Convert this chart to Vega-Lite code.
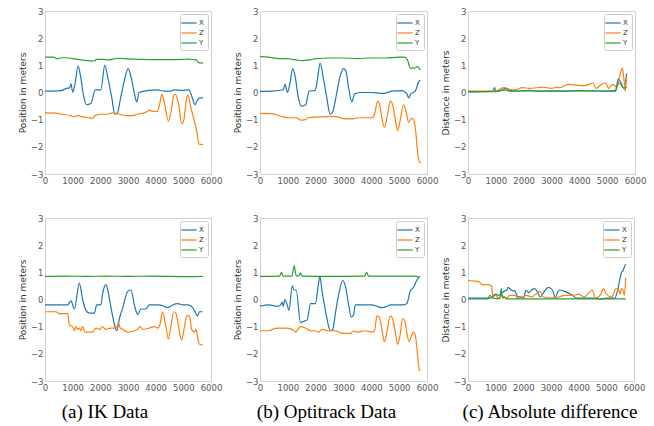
{
"$schema":"https://vega.github.io/schema/vega-lite/v6.json",
"padding":{"left":17,"top":6,"right":0,"bottom":0},
"background":"white",
"config":{
 "view":{"stroke":"#d0d0d0"},
 "axis":{"domain":false,"ticks":false,"grid":false,"labelFont":"DejaVu Sans","labelFontSize":8.5,"labelColor":"#555","labelPadding":2,"titleFont":"DejaVu Sans","titleFontSize":9,"titleFontWeight":"normal","titleColor":"#333","labelFlush":false,"labelOverlap":false,"titlePadding":3,"format":"d"},
 "legend":{"orient":"top-right","offset":3,"strokeColor":"#ccc","fillColor":"white","padding":4,"cornerRadius":2,"symbolType":"M-1.9,0L1.9,0","symbolSize":64,"symbolStrokeWidth":1.5,"labelFont":"DejaVu Sans","labelFontSize":7,"labelColor":"#333","rowPadding":2,"labelOffset":5},
 "line":{"strokeWidth":1.2,"interpolate":"monotone"}
},
"data":{"values":[
{"p":1,"s":"X","t":0,"v":0.05},{"p":1,"s":"X","t":580,"v":0.07},{"p":1,"s":"X","t":820,"v":0.16},{"p":1,"s":"X","t":880,"v":0.16},{"p":1,"s":"X","t":940,"v":0.32},{"p":1,"s":"X","t":1000,"v":0.01},{"p":1,"s":"X","t":1080,"v":0.3},{"p":1,"s":"X","t":1200,"v":0.97},{"p":1,"s":"X","t":1300,"v":0.5},{"p":1,"s":"X","t":1390,"v":-0.1},{"p":1,"s":"X","t":1500,"v":-0.45},{"p":1,"s":"X","t":1660,"v":-0.4},{"p":1,"s":"X","t":1815,"v":0.1},{"p":1,"s":"X","t":2020,"v":0.1},{"p":1,"s":"X","t":2160,"v":1.0},{"p":1,"s":"X","t":2280,"v":0.5},{"p":1,"s":"X","t":2415,"v":-0.2},{"p":1,"s":"X","t":2525,"v":-0.8},{"p":1,"s":"X","t":2620,"v":-0.75},{"p":1,"s":"X","t":2715,"v":-0.3},{"p":1,"s":"X","t":2860,"v":0.4},{"p":1,"s":"X","t":3005,"v":0.88},{"p":1,"s":"X","t":3125,"v":0.5},{"p":1,"s":"X","t":3245,"v":-0.1},{"p":1,"s":"X","t":3315,"v":-0.35},{"p":1,"s":"X","t":3400,"v":0.0},{"p":1,"s":"X","t":3700,"v":0.07},{"p":1,"s":"X","t":4060,"v":0.1},{"p":1,"s":"X","t":4300,"v":0.05},{"p":1,"s":"X","t":4540,"v":0.05},{"p":1,"s":"X","t":4660,"v":0.1},{"p":1,"s":"X","t":4960,"v":0.08},{"p":1,"s":"X","t":5200,"v":0.1},{"p":1,"s":"X","t":5325,"v":-0.2},{"p":1,"s":"X","t":5420,"v":-0.45},{"p":1,"s":"X","t":5500,"v":-0.3},{"p":1,"s":"X","t":5590,"v":-0.2},{"p":1,"s":"X","t":5710,"v":-0.2},
{"p":1,"s":"Z","t":0,"v":-0.75},{"p":1,"s":"Z","t":400,"v":-0.76},{"p":1,"s":"Z","t":580,"v":-0.8},{"p":1,"s":"Z","t":940,"v":-0.85},{"p":1,"s":"Z","t":1030,"v":-0.9},{"p":1,"s":"Z","t":1180,"v":-0.85},{"p":1,"s":"Z","t":1390,"v":-0.9},{"p":1,"s":"Z","t":1540,"v":-0.92},{"p":1,"s":"Z","t":1720,"v":-0.95},{"p":1,"s":"Z","t":1815,"v":-0.85},{"p":1,"s":"Z","t":2020,"v":-0.8},{"p":1,"s":"Z","t":2260,"v":-0.8},{"p":1,"s":"Z","t":2440,"v":-0.75},{"p":1,"s":"Z","t":2680,"v":-0.8},{"p":1,"s":"Z","t":2920,"v":-0.85},{"p":1,"s":"Z","t":3160,"v":-0.85},{"p":1,"s":"Z","t":3340,"v":-0.8},{"p":1,"s":"Z","t":3580,"v":-0.75},{"p":1,"s":"Z","t":3700,"v":-0.7},{"p":1,"s":"Z","t":3760,"v":-0.65},{"p":1,"s":"Z","t":3940,"v":-0.7},{"p":1,"s":"Z","t":4060,"v":-0.7},{"p":1,"s":"Z","t":4150,"v":-0.4},{"p":1,"s":"Z","t":4220,"v":-0.07},{"p":1,"s":"Z","t":4300,"v":-0.3},{"p":1,"s":"Z","t":4460,"v":-1.05},{"p":1,"s":"Z","t":4540,"v":-0.8},{"p":1,"s":"Z","t":4660,"v":-0.1},{"p":1,"s":"Z","t":4720,"v":-0.07},{"p":1,"s":"Z","t":4840,"v":-0.5},{"p":1,"s":"Z","t":4940,"v":-1.15},{"p":1,"s":"Z","t":5020,"v":-1.0},{"p":1,"s":"Z","t":5110,"v":-0.25},{"p":1,"s":"Z","t":5170,"v":-0.1},{"p":1,"s":"Z","t":5260,"v":-0.5},{"p":1,"s":"Z","t":5360,"v":-0.9},{"p":1,"s":"Z","t":5480,"v":-1.4},{"p":1,"s":"Z","t":5570,"v":-1.9},{"p":1,"s":"Z","t":5710,"v":-1.92},
{"p":1,"s":"Y","t":0,"v":1.3},{"p":1,"s":"Y","t":300,"v":1.3},{"p":1,"s":"Y","t":450,"v":1.24},{"p":1,"s":"Y","t":600,"v":1.28},{"p":1,"s":"Y","t":750,"v":1.28},{"p":1,"s":"Y","t":1000,"v":1.25},{"p":1,"s":"Y","t":1300,"v":1.2},{"p":1,"s":"Y","t":1500,"v":1.17},{"p":1,"s":"Y","t":1800,"v":1.16},{"p":1,"s":"Y","t":1850,"v":1.22},{"p":1,"s":"Y","t":2100,"v":1.22},{"p":1,"s":"Y","t":2300,"v":1.2},{"p":1,"s":"Y","t":2600,"v":1.26},{"p":1,"s":"Y","t":3000,"v":1.24},{"p":1,"s":"Y","t":3500,"v":1.22},{"p":1,"s":"Y","t":4000,"v":1.21},{"p":1,"s":"Y","t":4500,"v":1.21},{"p":1,"s":"Y","t":5000,"v":1.22},{"p":1,"s":"Y","t":5200,"v":1.23},{"p":1,"s":"Y","t":5400,"v":1.2},{"p":1,"s":"Y","t":5450,"v":1.22},{"p":1,"s":"Y","t":5550,"v":1.1},{"p":1,"s":"Y","t":5710,"v":1.08},
{"p":2,"s":"X","t":0,"v":0.04},{"p":2,"s":"X","t":420,"v":0.05},{"p":2,"s":"X","t":840,"v":0.1},{"p":2,"s":"X","t":900,"v":0.3},{"p":2,"s":"X","t":985,"v":0.0},{"p":2,"s":"X","t":1080,"v":0.35},{"p":2,"s":"X","t":1175,"v":0.88},{"p":2,"s":"X","t":1260,"v":0.6},{"p":2,"s":"X","t":1380,"v":-0.2},{"p":2,"s":"X","t":1475,"v":-0.5},{"p":2,"s":"X","t":1645,"v":-0.45},{"p":2,"s":"X","t":1765,"v":0.05},{"p":2,"s":"X","t":1980,"v":0.08},{"p":2,"s":"X","t":2065,"v":0.5},{"p":2,"s":"X","t":2160,"v":1.08},{"p":2,"s":"X","t":2280,"v":0.5},{"p":2,"s":"X","t":2400,"v":-0.2},{"p":2,"s":"X","t":2520,"v":-0.8},{"p":2,"s":"X","t":2615,"v":-0.7},{"p":2,"s":"X","t":2760,"v":0.0},{"p":2,"s":"X","t":2880,"v":0.6},{"p":2,"s":"X","t":3000,"v":0.88},{"p":2,"s":"X","t":3085,"v":0.8},{"p":2,"s":"X","t":3180,"v":0.2},{"p":2,"s":"X","t":3300,"v":-0.35},{"p":2,"s":"X","t":3400,"v":-0.05},{"p":2,"s":"X","t":3660,"v":0.0},{"p":2,"s":"X","t":4020,"v":0.0},{"p":2,"s":"X","t":4320,"v":-0.03},{"p":2,"s":"X","t":4500,"v":-0.02},{"p":2,"s":"X","t":4740,"v":0.05},{"p":2,"s":"X","t":5100,"v":0.07},{"p":2,"s":"X","t":5200,"v":0.02},{"p":2,"s":"X","t":5280,"v":-0.05},{"p":2,"s":"X","t":5340,"v":-0.2},{"p":2,"s":"X","t":5420,"v":-0.05},{"p":2,"s":"X","t":5580,"v":0.05},{"p":2,"s":"X","t":5700,"v":0.4},{"p":2,"s":"X","t":5760,"v":0.45},
{"p":2,"s":"Z","t":0,"v":-0.77},{"p":2,"s":"Z","t":420,"v":-0.78},{"p":2,"s":"Z","t":780,"v":-0.88},{"p":2,"s":"Z","t":1020,"v":-0.93},{"p":2,"s":"Z","t":1320,"v":-0.93},{"p":2,"s":"Z","t":1465,"v":-1.02},{"p":2,"s":"Z","t":1620,"v":-1.0},{"p":2,"s":"Z","t":1765,"v":-0.92},{"p":2,"s":"Z","t":2100,"v":-0.9},{"p":2,"s":"Z","t":2580,"v":-0.88},{"p":2,"s":"Z","t":2820,"v":-0.9},{"p":2,"s":"Z","t":2940,"v":-0.95},{"p":2,"s":"Z","t":3300,"v":-0.97},{"p":2,"s":"Z","t":3540,"v":-0.93},{"p":2,"s":"Z","t":4020,"v":-0.93},{"p":2,"s":"Z","t":4115,"v":-0.8},{"p":2,"s":"Z","t":4225,"v":-0.33},{"p":2,"s":"Z","t":4300,"v":-0.45},{"p":2,"s":"Z","t":4380,"v":-0.95},{"p":2,"s":"Z","t":4475,"v":-1.28},{"p":2,"s":"Z","t":4585,"v":-0.8},{"p":2,"s":"Z","t":4680,"v":-0.32},{"p":2,"s":"Z","t":4765,"v":-0.45},{"p":2,"s":"Z","t":4860,"v":-1.0},{"p":2,"s":"Z","t":4945,"v":-1.4},{"p":2,"s":"Z","t":5040,"v":-1.0},{"p":2,"s":"Z","t":5160,"v":-0.45},{"p":2,"s":"Z","t":5245,"v":-0.7},{"p":2,"s":"Z","t":5340,"v":-1.1},{"p":2,"s":"Z","t":5440,"v":-0.95},{"p":2,"s":"Z","t":5520,"v":-1.0},{"p":2,"s":"Z","t":5580,"v":-1.3},{"p":2,"s":"Z","t":5675,"v":-2.3},{"p":2,"s":"Z","t":5725,"v":-2.55},{"p":2,"s":"Z","t":5785,"v":-2.6},
{"p":2,"s":"Y","t":0,"v":1.32},{"p":2,"s":"Y","t":300,"v":1.3},{"p":2,"s":"Y","t":700,"v":1.25},{"p":2,"s":"Y","t":1000,"v":1.25},{"p":2,"s":"Y","t":1150,"v":1.22},{"p":2,"s":"Y","t":1300,"v":1.2},{"p":2,"s":"Y","t":1500,"v":1.17},{"p":2,"s":"Y","t":1800,"v":1.2},{"p":2,"s":"Y","t":2000,"v":1.25},{"p":2,"s":"Y","t":2500,"v":1.27},{"p":2,"s":"Y","t":3000,"v":1.27},{"p":2,"s":"Y","t":3500,"v":1.25},{"p":2,"s":"Y","t":4000,"v":1.27},{"p":2,"s":"Y","t":4500,"v":1.27},{"p":2,"s":"Y","t":5000,"v":1.3},{"p":2,"s":"Y","t":5200,"v":1.3},{"p":2,"s":"Y","t":5300,"v":1.2},{"p":2,"s":"Y","t":5400,"v":0.9},{"p":2,"s":"Y","t":5550,"v":0.9},{"p":2,"s":"Y","t":5650,"v":0.95},{"p":2,"s":"Y","t":5760,"v":0.82},
{"p":3,"s":"X","t":0,"v":0.02},{"p":3,"s":"X","t":500,"v":0.03},{"p":3,"s":"X","t":900,"v":0.05},{"p":3,"s":"X","t":950,"v":0.18},{"p":3,"s":"X","t":1000,"v":0.05},{"p":3,"s":"X","t":1200,"v":0.08},{"p":3,"s":"X","t":1350,"v":0.15},{"p":3,"s":"X","t":1500,"v":0.08},{"p":3,"s":"X","t":1800,"v":0.05},{"p":3,"s":"X","t":2200,"v":0.08},{"p":3,"s":"X","t":2500,"v":0.05},{"p":3,"s":"X","t":3000,"v":0.06},{"p":3,"s":"X","t":3500,"v":0.05},{"p":3,"s":"X","t":4000,"v":0.07},{"p":3,"s":"X","t":4500,"v":0.06},{"p":3,"s":"X","t":5000,"v":0.05},{"p":3,"s":"X","t":5300,"v":0.08},{"p":3,"s":"X","t":5400,"v":0.5},{"p":3,"s":"X","t":5500,"v":0.35},{"p":3,"s":"X","t":5600,"v":0.15},{"p":3,"s":"X","t":5700,"v":0.7},
{"p":3,"s":"Z","t":0,"v":0.05},{"p":3,"s":"Z","t":500,"v":0.05},{"p":3,"s":"Z","t":1000,"v":0.05},{"p":3,"s":"Z","t":1100,"v":0.1},{"p":3,"s":"Z","t":1300,"v":0.18},{"p":3,"s":"Z","t":1500,"v":0.12},{"p":3,"s":"Z","t":1700,"v":0.1},{"p":3,"s":"Z","t":1950,"v":0.18},{"p":3,"s":"Z","t":2200,"v":0.15},{"p":3,"s":"Z","t":2700,"v":0.2},{"p":3,"s":"Z","t":3000,"v":0.15},{"p":3,"s":"Z","t":3200,"v":0.2},{"p":3,"s":"Z","t":3300,"v":0.18},{"p":3,"s":"Z","t":3600,"v":0.3},{"p":3,"s":"Z","t":3800,"v":0.28},{"p":3,"s":"Z","t":4200,"v":0.25},{"p":3,"s":"Z","t":4500,"v":0.35},{"p":3,"s":"Z","t":4600,"v":0.15},{"p":3,"s":"Z","t":4800,"v":0.3},{"p":3,"s":"Z","t":4950,"v":0.35},{"p":3,"s":"Z","t":5050,"v":0.15},{"p":3,"s":"Z","t":5200,"v":0.3},{"p":3,"s":"Z","t":5350,"v":0.2},{"p":3,"s":"Z","t":5450,"v":0.6},{"p":3,"s":"Z","t":5550,"v":0.9},{"p":3,"s":"Z","t":5600,"v":0.5},{"p":3,"s":"Z","t":5650,"v":0.05},{"p":3,"s":"Z","t":5700,"v":0.6},
{"p":3,"s":"Y","t":0,"v":0.03},{"p":3,"s":"Y","t":500,"v":0.03},{"p":3,"s":"Y","t":1000,"v":0.03},{"p":3,"s":"Y","t":1300,"v":0.1},{"p":3,"s":"Y","t":1500,"v":0.05},{"p":3,"s":"Y","t":2000,"v":0.06},{"p":3,"s":"Y","t":2500,"v":0.05},{"p":3,"s":"Y","t":3000,"v":0.05},{"p":3,"s":"Y","t":3500,"v":0.05},{"p":3,"s":"Y","t":4000,"v":0.06},{"p":3,"s":"Y","t":4500,"v":0.06},{"p":3,"s":"Y","t":5000,"v":0.05},{"p":3,"s":"Y","t":5300,"v":0.05},{"p":3,"s":"Y","t":5400,"v":0.35},{"p":3,"s":"Y","t":5500,"v":0.3},{"p":3,"s":"Y","t":5600,"v":0.15},{"p":3,"s":"Y","t":5700,"v":0.2},
{"p":4,"s":"X","t":0,"v":-0.2},{"p":4,"s":"X","t":700,"v":-0.2},{"p":4,"s":"X","t":820,"v":-0.2},{"p":4,"s":"X","t":940,"v":-0.05},{"p":4,"s":"X","t":1060,"v":-0.35},{"p":4,"s":"X","t":1240,"v":0.6},{"p":4,"s":"X","t":1360,"v":0.0},{"p":4,"s":"X","t":1480,"v":-0.4},{"p":4,"s":"X","t":1600,"v":-0.5},{"p":4,"s":"X","t":1780,"v":-0.5},{"p":4,"s":"X","t":1870,"v":-0.2},{"p":4,"s":"X","t":2020,"v":-0.2},{"p":4,"s":"X","t":2080,"v":0.2},{"p":4,"s":"X","t":2200,"v":0.55},{"p":4,"s":"X","t":2300,"v":0.2},{"p":4,"s":"X","t":2385,"v":-0.3},{"p":4,"s":"X","t":2505,"v":-0.9},{"p":4,"s":"X","t":2590,"v":-1.15},{"p":4,"s":"X","t":2690,"v":-0.7},{"p":4,"s":"X","t":2810,"v":-0.3},{"p":4,"s":"X","t":2990,"v":0.3},{"p":4,"s":"X","t":3110,"v":0.35},{"p":4,"s":"X","t":3230,"v":-0.2},{"p":4,"s":"X","t":3350,"v":-0.55},{"p":4,"s":"X","t":3470,"v":-0.35},{"p":4,"s":"X","t":3650,"v":-0.35},{"p":4,"s":"X","t":3770,"v":-0.2},{"p":4,"s":"X","t":4070,"v":-0.2},{"p":4,"s":"X","t":4310,"v":-0.25},{"p":4,"s":"X","t":4430,"v":-0.3},{"p":4,"s":"X","t":4610,"v":-0.2},{"p":4,"s":"X","t":4800,"v":-0.15},{"p":4,"s":"X","t":4980,"v":-0.2},{"p":4,"s":"X","t":5160,"v":-0.2},{"p":4,"s":"X","t":5340,"v":-0.3},{"p":4,"s":"X","t":5520,"v":-0.6},{"p":4,"s":"X","t":5580,"v":-0.45},{"p":4,"s":"X","t":5700,"v":-0.45},
{"p":4,"s":"Z","t":0,"v":-0.45},{"p":4,"s":"Z","t":400,"v":-0.45},{"p":4,"s":"Z","t":520,"v":-0.52},{"p":4,"s":"Z","t":760,"v":-0.52},{"p":4,"s":"Z","t":820,"v":-0.52},{"p":4,"s":"Z","t":880,"v":-0.95},{"p":4,"s":"Z","t":1000,"v":-1.0},{"p":4,"s":"Z","t":1060,"v":-1.15},{"p":4,"s":"Z","t":1120,"v":-1.0},{"p":4,"s":"Z","t":1180,"v":-1.1},{"p":4,"s":"Z","t":1240,"v":-1.05},{"p":4,"s":"Z","t":1300,"v":-1.15},{"p":4,"s":"Z","t":1360,"v":-1.0},{"p":4,"s":"Z","t":1445,"v":-1.2},{"p":4,"s":"Z","t":1600,"v":-1.2},{"p":4,"s":"Z","t":1720,"v":-1.2},{"p":4,"s":"Z","t":1845,"v":-1.05},{"p":4,"s":"Z","t":1965,"v":-1.1},{"p":4,"s":"Z","t":2080,"v":-1.0},{"p":4,"s":"Z","t":2200,"v":-1.1},{"p":4,"s":"Z","t":2385,"v":-1.05},{"p":4,"s":"Z","t":2505,"v":-1.05},{"p":4,"s":"Z","t":2600,"v":-1.0},{"p":4,"s":"Z","t":2650,"v":-0.85},{"p":4,"s":"Z","t":2720,"v":-1.05},{"p":4,"s":"Z","t":2810,"v":-1.1},{"p":4,"s":"Z","t":2990,"v":-1.2},{"p":4,"s":"Z","t":3230,"v":-1.15},{"p":4,"s":"Z","t":3350,"v":-1.1},{"p":4,"s":"Z","t":3445,"v":-1.0},{"p":4,"s":"Z","t":3530,"v":-1.1},{"p":4,"s":"Z","t":3770,"v":-1.05},{"p":4,"s":"Z","t":3950,"v":-1.0},{"p":4,"s":"Z","t":4070,"v":-1.05},{"p":4,"s":"Z","t":4160,"v":-0.9},{"p":4,"s":"Z","t":4250,"v":-0.45},{"p":4,"s":"Z","t":4370,"v":-1.0},{"p":4,"s":"Z","t":4460,"v":-1.45},{"p":4,"s":"Z","t":4550,"v":-1.0},{"p":4,"s":"Z","t":4650,"v":-0.45},{"p":4,"s":"Z","t":4730,"v":-0.5},{"p":4,"s":"Z","t":4860,"v":-1.2},{"p":4,"s":"Z","t":4940,"v":-1.5},{"p":4,"s":"Z","t":5040,"v":-1.0},{"p":4,"s":"Z","t":5120,"v":-0.6},{"p":4,"s":"Z","t":5220,"v":-0.6},{"p":4,"s":"Z","t":5300,"v":-1.1},{"p":4,"s":"Z","t":5400,"v":-1.2},{"p":4,"s":"Z","t":5460,"v":-1.1},{"p":4,"s":"Z","t":5520,"v":-1.4},{"p":4,"s":"Z","t":5580,"v":-1.65},{"p":4,"s":"Z","t":5700,"v":-1.68},
{"p":4,"s":"Y","t":0,"v":0.85},{"p":4,"s":"Y","t":800,"v":0.86},{"p":4,"s":"Y","t":1500,"v":0.85},{"p":4,"s":"Y","t":2200,"v":0.86},{"p":4,"s":"Y","t":3000,"v":0.85},{"p":4,"s":"Y","t":3800,"v":0.86},{"p":4,"s":"Y","t":4600,"v":0.85},{"p":4,"s":"Y","t":5200,"v":0.84},{"p":4,"s":"Y","t":5700,"v":0.85},
{"p":5,"s":"X","t":0,"v":-0.25},{"p":5,"s":"X","t":320,"v":-0.2},{"p":5,"s":"X","t":620,"v":-0.25},{"p":5,"s":"X","t":740,"v":-0.2},{"p":5,"s":"X","t":800,"v":-0.1},{"p":5,"s":"X","t":835,"v":-0.25},{"p":5,"s":"X","t":895,"v":0.0},{"p":5,"s":"X","t":980,"v":-0.2},{"p":5,"s":"X","t":1040,"v":-0.4},{"p":5,"s":"X","t":1160,"v":0.5},{"p":5,"s":"X","t":1220,"v":0.35},{"p":5,"s":"X","t":1300,"v":0.35},{"p":5,"s":"X","t":1455,"v":-0.85},{"p":5,"s":"X","t":1575,"v":-0.8},{"p":5,"s":"X","t":1695,"v":-0.75},{"p":5,"s":"X","t":1815,"v":-0.15},{"p":5,"s":"X","t":1990,"v":-0.15},{"p":5,"s":"X","t":2090,"v":0.5},{"p":5,"s":"X","t":2150,"v":0.85},{"p":5,"s":"X","t":2230,"v":0.3},{"p":5,"s":"X","t":2350,"v":-0.4},{"p":5,"s":"X","t":2470,"v":-1.0},{"p":5,"s":"X","t":2530,"v":-1.15},{"p":5,"s":"X","t":2615,"v":-1.1},{"p":5,"s":"X","t":2710,"v":-0.5},{"p":5,"s":"X","t":2830,"v":0.2},{"p":5,"s":"X","t":2970,"v":0.7},{"p":5,"s":"X","t":3065,"v":0.5},{"p":5,"s":"X","t":3185,"v":-0.2},{"p":5,"s":"X","t":3280,"v":-0.65},{"p":5,"s":"X","t":3365,"v":-0.55},{"p":5,"s":"X","t":3425,"v":-0.2},{"p":5,"s":"X","t":3665,"v":-0.2},{"p":5,"s":"X","t":4020,"v":-0.2},{"p":5,"s":"X","t":4200,"v":-0.25},{"p":5,"s":"X","t":4380,"v":-0.3},{"p":5,"s":"X","t":4560,"v":-0.25},{"p":5,"s":"X","t":4680,"v":-0.2},{"p":5,"s":"X","t":4860,"v":-0.2},{"p":5,"s":"X","t":5155,"v":-0.2},{"p":5,"s":"X","t":5275,"v":-0.15},{"p":5,"s":"X","t":5395,"v":0.3},{"p":5,"s":"X","t":5515,"v":0.45},{"p":5,"s":"X","t":5630,"v":0.7},{"p":5,"s":"X","t":5690,"v":0.8},{"p":5,"s":"X","t":5730,"v":0.85},
{"p":5,"s":"Z","t":0,"v":-1.15},{"p":5,"s":"Z","t":320,"v":-1.15},{"p":5,"s":"Z","t":440,"v":-1.1},{"p":5,"s":"Z","t":680,"v":-1.05},{"p":5,"s":"Z","t":920,"v":-1.05},{"p":5,"s":"Z","t":1160,"v":-1.1},{"p":5,"s":"Z","t":1275,"v":-1.2},{"p":5,"s":"Z","t":1455,"v":-1.0},{"p":5,"s":"Z","t":1635,"v":-1.05},{"p":5,"s":"Z","t":1815,"v":-1.15},{"p":5,"s":"Z","t":1990,"v":-1.15},{"p":5,"s":"Z","t":2110,"v":-1.2},{"p":5,"s":"Z","t":2230,"v":-1.1},{"p":5,"s":"Z","t":2470,"v":-1.15},{"p":5,"s":"Z","t":2710,"v":-1.15},{"p":5,"s":"Z","t":2950,"v":-1.25},{"p":5,"s":"Z","t":3245,"v":-1.25},{"p":5,"s":"Z","t":3365,"v":-1.15},{"p":5,"s":"Z","t":3485,"v":-1.2},{"p":5,"s":"Z","t":3785,"v":-1.15},{"p":5,"s":"Z","t":4020,"v":-1.2},{"p":5,"s":"Z","t":4115,"v":-1.15},{"p":5,"s":"Z","t":4200,"v":-0.6},{"p":5,"s":"Z","t":4285,"v":-0.65},{"p":5,"s":"Z","t":4380,"v":-1.1},{"p":5,"s":"Z","t":4465,"v":-1.55},{"p":5,"s":"Z","t":4560,"v":-1.2},{"p":5,"s":"Z","t":4680,"v":-0.6},{"p":5,"s":"Z","t":4760,"v":-0.7},{"p":5,"s":"Z","t":4860,"v":-1.2},{"p":5,"s":"Z","t":4940,"v":-1.65},{"p":5,"s":"Z","t":5035,"v":-1.3},{"p":5,"s":"Z","t":5130,"v":-0.7},{"p":5,"s":"Z","t":5215,"v":-0.85},{"p":5,"s":"Z","t":5275,"v":-1.2},{"p":5,"s":"Z","t":5355,"v":-1.55},{"p":5,"s":"Z","t":5455,"v":-1.3},{"p":5,"s":"Z","t":5525,"v":-1.2},{"p":5,"s":"Z","t":5595,"v":-1.4},{"p":5,"s":"Z","t":5655,"v":-2.0},{"p":5,"s":"Z","t":5730,"v":-2.6},{"p":5,"s":"Z","t":5765,"v":-2.62},
{"p":5,"s":"Y","t":0,"v":0.85},{"p":5,"s":"Y","t":700,"v":0.86},{"p":5,"s":"Y","t":775,"v":1.0},{"p":5,"s":"Y","t":830,"v":0.86},{"p":5,"s":"Y","t":1150,"v":0.86},{"p":5,"s":"Y","t":1230,"v":1.25},{"p":5,"s":"Y","t":1300,"v":0.87},{"p":5,"s":"Y","t":1400,"v":0.88},{"p":5,"s":"Y","t":1450,"v":0.98},{"p":5,"s":"Y","t":1520,"v":0.86},{"p":5,"s":"Y","t":2500,"v":0.85},{"p":5,"s":"Y","t":3750,"v":0.86},{"p":5,"s":"Y","t":3830,"v":1.0},{"p":5,"s":"Y","t":3900,"v":0.86},{"p":5,"s":"Y","t":5000,"v":0.86},{"p":5,"s":"Y","t":5600,"v":0.86},{"p":5,"s":"Y","t":5700,"v":0.82},{"p":5,"s":"Y","t":5750,"v":0.85},
{"p":6,"s":"X","t":0,"v":0.05},{"p":6,"s":"X","t":500,"v":0.05},{"p":6,"s":"X","t":800,"v":0.05},{"p":6,"s":"X","t":1000,"v":0.2},{"p":6,"s":"X","t":1100,"v":0.15},{"p":6,"s":"X","t":1200,"v":0.2},{"p":6,"s":"X","t":1300,"v":0.3},{"p":6,"s":"X","t":1400,"v":0.35},{"p":6,"s":"X","t":1450,"v":0.45},{"p":6,"s":"X","t":1550,"v":0.35},{"p":6,"s":"X","t":1700,"v":0.3},{"p":6,"s":"X","t":1800,"v":0.1},{"p":6,"s":"X","t":1900,"v":0.1},{"p":6,"s":"X","t":2000,"v":0.05},{"p":6,"s":"X","t":2100,"v":0.35},{"p":6,"s":"X","t":2200,"v":0.25},{"p":6,"s":"X","t":2300,"v":0.35},{"p":6,"s":"X","t":2400,"v":0.4},{"p":6,"s":"X","t":2500,"v":0.3},{"p":6,"s":"X","t":2600,"v":0.1},{"p":6,"s":"X","t":2800,"v":0.35},{"p":6,"s":"X","t":2900,"v":0.45},{"p":6,"s":"X","t":3050,"v":0.35},{"p":6,"s":"X","t":3150,"v":0.1},{"p":6,"s":"X","t":3300,"v":0.35},{"p":6,"s":"X","t":3500,"v":0.3},{"p":6,"s":"X","t":3700,"v":0.2},{"p":6,"s":"X","t":3800,"v":0.15},{"p":6,"s":"X","t":3900,"v":0.05},{"p":6,"s":"X","t":4200,"v":0.05},{"p":6,"s":"X","t":4500,"v":0.05},{"p":6,"s":"X","t":4800,"v":0.02},{"p":6,"s":"X","t":5000,"v":0.05},{"p":6,"s":"X","t":5300,"v":0.05},{"p":6,"s":"X","t":5400,"v":0.3},{"p":6,"s":"X","t":5500,"v":0.8},{"p":6,"s":"X","t":5550,"v":1.0},{"p":6,"s":"X","t":5600,"v":1.05},{"p":6,"s":"X","t":5650,"v":1.2},{"p":6,"s":"X","t":5700,"v":1.3},
{"p":6,"s":"Z","t":0,"v":0.7},{"p":6,"s":"Z","t":200,"v":0.68},{"p":6,"s":"Z","t":400,"v":0.65},{"p":6,"s":"Z","t":500,"v":0.55},{"p":6,"s":"Z","t":700,"v":0.55},{"p":6,"s":"Z","t":850,"v":0.5},{"p":6,"s":"Z","t":900,"v":0.1},{"p":6,"s":"Z","t":1000,"v":0.15},{"p":6,"s":"Z","t":1100,"v":0.05},{"p":6,"s":"Z","t":1200,"v":0.15},{"p":6,"s":"Z","t":1300,"v":0.1},{"p":6,"s":"Z","t":1400,"v":0.05},{"p":6,"s":"Z","t":1500,"v":0.15},{"p":6,"s":"Z","t":1700,"v":0.15},{"p":6,"s":"Z","t":1800,"v":0.05},{"p":6,"s":"Z","t":2000,"v":0.1},{"p":6,"s":"Z","t":2100,"v":0.15},{"p":6,"s":"Z","t":2300,"v":0.1},{"p":6,"s":"Z","t":2600,"v":0.3},{"p":6,"s":"Z","t":2700,"v":0.1},{"p":6,"s":"Z","t":3000,"v":0.05},{"p":6,"s":"Z","t":3300,"v":0.1},{"p":6,"s":"Z","t":3500,"v":0.15},{"p":6,"s":"Z","t":3800,"v":0.15},{"p":6,"s":"Z","t":4000,"v":0.2},{"p":6,"s":"Z","t":4200,"v":0.1},{"p":6,"s":"Z","t":4500,"v":0.35},{"p":6,"s":"Z","t":4600,"v":0.05},{"p":6,"s":"Z","t":4800,"v":0.2},{"p":6,"s":"Z","t":4900,"v":0.4},{"p":6,"s":"Z","t":5000,"v":0.2},{"p":6,"s":"Z","t":5200,"v":0.1},{"p":6,"s":"Z","t":5350,"v":0.4},{"p":6,"s":"Z","t":5450,"v":0.35},{"p":6,"s":"Z","t":5500,"v":0.2},{"p":6,"s":"Z","t":5550,"v":0.4},{"p":6,"s":"Z","t":5600,"v":0.35},{"p":6,"s":"Z","t":5650,"v":0.15},{"p":6,"s":"Z","t":5700,"v":0.8},
{"p":6,"s":"Y","t":0,"v":0.02},{"p":6,"s":"Y","t":700,"v":0.02},{"p":6,"s":"Y","t":800,"v":0.15},{"p":6,"s":"Y","t":900,"v":0.05},{"p":6,"s":"Y","t":1150,"v":0.03},{"p":6,"s":"Y","t":1200,"v":0.4},{"p":6,"s":"Y","t":1250,"v":0.05},{"p":6,"s":"Y","t":1300,"v":0.1},{"p":6,"s":"Y","t":1400,"v":0.02},{"p":6,"s":"Y","t":3000,"v":0.02},{"p":6,"s":"Y","t":4500,"v":0.02},{"p":6,"s":"Y","t":5700,"v":0.02}
]},
"columns":6,
"bounds":"flush",
"align":{"row":"all","column":"none"},
"spacing":{"row":44,"column":0},
"resolve":{"scale":{"color":"independent","x":"independent","y":"independent"}},
"concat":[
 {"width":1,"height":163,"data":{"values":[{"a":1}]},"mark":{"type":"text","text":""},"view":{"stroke":null}},
 {"width":166,"height":163,"transform":[{"filter":"datum.p==1"}],"mark":"line","encoding":{"x":{"field":"t","type":"quantitative","scale":{"domain":[0,6000],"nice":false},"axis":{"values":[0,1000,2000,3000,4000,5000,6000],"title":null}},"y":{"field":"v","type":"quantitative","scale":{"domain":[-3,3]},"axis":{"values":[-3,-2,-1,0,1,2,3],"title":"Position in meters"}},"color":{"field":"s","type":"nominal","scale":{"domain":["X","Z","Y"],"range":["#1f77b4","#ff7f0e","#2ca02c"]},"legend":{"title":null}}}},
 {"width":48,"height":163,"data":{"values":[{"a":1}]},"mark":{"type":"text","text":""},"view":{"stroke":null}},
 {"width":167,"height":163,"transform":[{"filter":"datum.p==2"}],"mark":"line","encoding":{"x":{"field":"t","type":"quantitative","scale":{"domain":[0,6000],"nice":false},"axis":{"values":[0,1000,2000,3000,4000,5000,6000],"title":null}},"y":{"field":"v","type":"quantitative","scale":{"domain":[-3,3]},"axis":{"values":[-3,-2,-1,0,1,2,3],"title":"Position in meters"}},"color":{"field":"s","type":"nominal","scale":{"domain":["X","Z","Y"],"range":["#1f77b4","#ff7f0e","#2ca02c"]},"legend":{"title":null}}}},
 {"width":41,"height":163,"data":{"values":[{"a":1}]},"mark":{"type":"text","text":""},"view":{"stroke":null}},
 {"width":167,"height":163,"transform":[{"filter":"datum.p==3"}],"mark":"line","encoding":{"x":{"field":"t","type":"quantitative","scale":{"domain":[0,6000],"nice":false},"axis":{"values":[0,1000,2000,3000,4000,5000,6000],"title":null}},"y":{"field":"v","type":"quantitative","scale":{"domain":[-3,3]},"axis":{"values":[-3,-2,-1,0,1,2,3],"title":"Distance in meters"}},"color":{"field":"s","type":"nominal","scale":{"domain":["X","Z","Y"],"range":["#1f77b4","#ff7f0e","#2ca02c"]},"legend":{"title":null}}}},
 {"width":4,"height":163,"data":{"values":[{"a":1}]},"mark":{"type":"text","text":""},"view":{"stroke":null}},
 {"width":166,"height":163,"transform":[{"filter":"datum.p==4"}],"title":{"text":"(a) IK Data","orient":"bottom","anchor":"middle","font":"Liberation Serif","fontSize":19,"fontWeight":"normal","color":"black","offset":11,"dx":-23},"mark":"line","encoding":{"x":{"field":"t","type":"quantitative","scale":{"domain":[0,6000],"nice":false},"axis":{"values":[0,1000,2000,3000,4000,5000,6000],"title":null}},"y":{"field":"v","type":"quantitative","scale":{"domain":[-3,3]},"axis":{"values":[-3,-2,-1,0,1,2,3],"title":"Position in meters"}},"color":{"field":"s","type":"nominal","scale":{"domain":["X","Z","Y"],"range":["#1f77b4","#ff7f0e","#2ca02c"]},"legend":{"title":null}}}},
 {"width":49,"height":163,"data":{"values":[{"a":1}]},"mark":{"type":"text","text":""},"view":{"stroke":null}},
 {"width":167,"height":163,"transform":[{"filter":"datum.p==5"}],"title":{"text":"(b) Optitrack Data","orient":"bottom","anchor":"middle","font":"Liberation Serif","fontSize":19,"fontWeight":"normal","color":"black","offset":11,"dx":-17},"mark":"line","encoding":{"x":{"field":"t","type":"quantitative","scale":{"domain":[0,6000],"nice":false},"axis":{"values":[0,1000,2000,3000,4000,5000,6000],"title":null}},"y":{"field":"v","type":"quantitative","scale":{"domain":[-3,3]},"axis":{"values":[-3,-2,-1,0,1,2,3],"title":"Position in meters"}},"color":{"field":"s","type":"nominal","scale":{"domain":["X","Z","Y"],"range":["#1f77b4","#ff7f0e","#2ca02c"]},"legend":{"title":null}}}},
 {"width":34,"height":163,"data":{"values":[{"a":1}]},"mark":{"type":"text","text":""},"view":{"stroke":null}},
 {"width":166,"height":163,"transform":[{"filter":"datum.p==6"}],"title":{"text":"(c) Absolute difference","orient":"bottom","anchor":"middle","font":"Liberation Serif","fontSize":19,"fontWeight":"normal","color":"black","offset":11,"dx":-1},"mark":"line","encoding":{"x":{"field":"t","type":"quantitative","scale":{"domain":[0,6000],"nice":false},"axis":{"values":[0,1000,2000,3000,4000,5000,6000],"title":null}},"y":{"field":"v","type":"quantitative","scale":{"domain":[-3,3]},"axis":{"values":[-3,-2,-1,0,1,2,3],"title":"Distance in meters"}},"color":{"field":"s","type":"nominal","scale":{"domain":["X","Z","Y"],"range":["#1f77b4","#ff7f0e","#2ca02c"]},"legend":{"title":null}}}}
]
}
